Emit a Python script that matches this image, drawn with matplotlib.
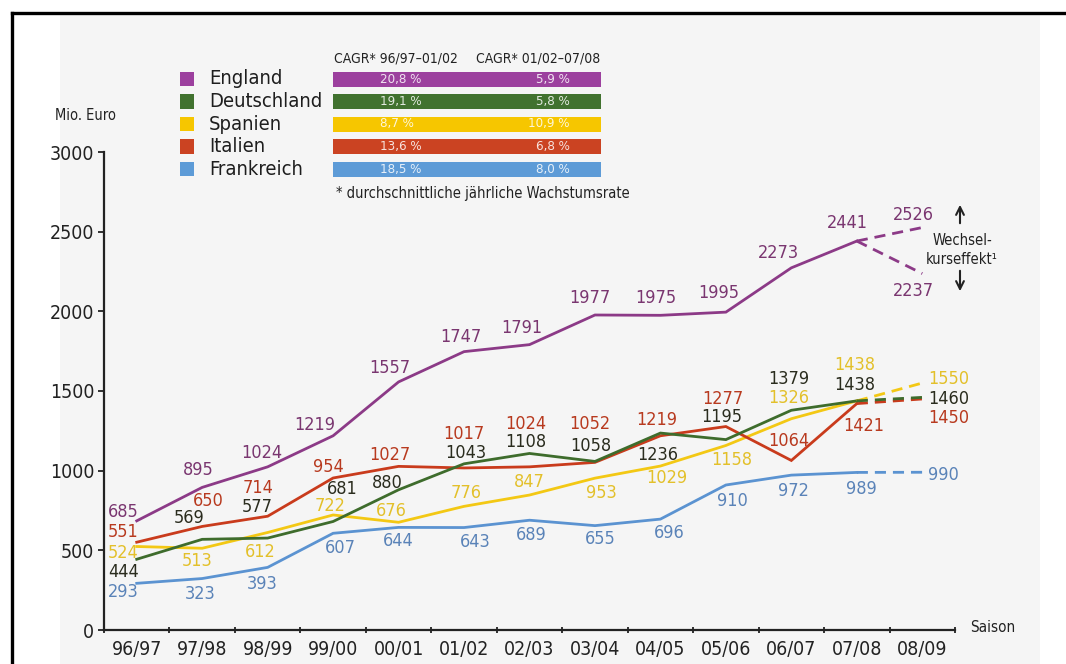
import numpy as np
import matplotlib
matplotlib.use("Agg")
import matplotlib.pyplot as plt
from matplotlib import font_manager
from matplotlib.patches import Rectangle
from matplotlib.lines import Line2D

# Umsatz der Ligen in Mio. Euro, Saison 96/97 bis 07/08, Prognose 08/09
seasons = ["96/97", "97/98", "98/99", "99/00", "00/01", "01/02", "02/03",
           "03/04", "04/05", "05/06", "06/07", "07/08", "08/09"]

england = [685, 895, 1024, 1219, 1557, 1747, 1791, 1977, 1975, 1995, 2273, 2441]
deutschland = [444, 569, 577, 681, 880, 1043, 1108, 1058, 1236, 1195, 1379, 1438]
spanien = [524, 513, 612, 722, 676, 776, 847, 953, 1029, 1158, 1326, 1438]
italien = [551, 650, 714, 954, 1027, 1017, 1024, 1052, 1219, 1277, 1064, 1421]
frankreich = [293, 323, 393, 607, 644, 643, 689, 655, 696, 910, 972, 989]

# Prognose 08/09 (England mit zwei Wechselkurs-Szenarien)
england_forecast = [2526, 2237]
deutschland_forecast = 1460
spanien_forecast = 1550
italien_forecast = 1450
frankreich_forecast = 990

countries = ["England", "Deutschland", "Spanien", "Italien", "Frankreich"]
cagr_9702 = ["20,8 %", "19,1 %", "8,7 %", "13,6 %", "18,5 %"]
cagr_0208 = ["5,9 %", "5,8 %", "10,9 %", "6,8 %", "8,0 %"]

LINE_COLORS = ["#8c3a87", "#3e6c2c", "#f3c814", "#c93b1c", "#5b93d1"]
LABEL_COLORS = ["#7a3670", "#2a2c1e", "#e3c02a", "#b83a1f", "#5a83b8"]
BAR_COLORS = ["#9c409e", "#41722f", "#f6c600", "#cb4322", "#5d9bd7"]

# label offsets in pixels (dx, dy) relative to the data point
OFFSETS = [
    [(2, 9), (-4, 17), (-6, 14), (-18, 11), (-9, 14), (-3, 15), (-8, 17),
     (-5, 17), (-5, 17), (-7, 19), (-13, 15), (-9, 18)],
    [(2, -13), (-13, 21), (-10, 31), (9, 32), (-11, 7), (2, 11), (-4, 11),
     (-4, 15), (-3, -22), (-4, 23), (-3, 31), (-2, 16)],
    [(2, -6), (-5, -13), (-7, -20), (-3, 9), (-7, 11), (2, 13), (0, 13),
     (6, -15), (6, -12), (6, -15), (-3, 21), (-2, 36)],
    [(2, 10), (6, 25), (-10, 28), (-5, 11), (-9, 11), (0, 34), (-4, 43),
     (-5, 38), (-4, 16), (-3, 28), (-3, 19), (7, -22)],
    [(2, -9), (-2, -15), (-5, -17), (7, -15), (0, -14), (11, -14), (2, -15),
     (5, -13), (9, -14), (7, -16), (2, -16), (5, -17)],
]
FORECAST_OFFSETS = [(6, -2), (6, 4), (6, -19), (6, -3)]

W, H = 1066, 664

available = {f.name for f in font_manager.fontManager.ttflist}
if "Liberation Sans Narrow" in available:
    plt.rcParams["font.family"] = ["Liberation Sans Narrow", "DejaVu Sans"]
else:
    plt.rcParams["font.family"] = ["DejaVu Sans"]
    plt.rcParams["font.stretch"] = "condensed"


def fx(x):
    return x / W


def fy(y):
    return 1 - y / H


fig = plt.figure(figsize=(W / 100, H / 100), dpi=100)
fig.patch.set_facecolor("white")

# grauer Rasterhintergrund und Rahmen
fig.patches.append(Rectangle((fx(60), 0), fx(1040) - fx(60), fy(14),
                             transform=fig.transFigure, facecolor="#f5f5f5",
                             edgecolor="none", zorder=-5))
fig.add_artist(Line2D([fx(11.5), fx(11.5)], [0, fy(13)], color="black", lw=2.4))
fig.add_artist(Line2D([fx(11.5), 1], [fy(13), fy(13)], color="black", lw=2.4))

ax = fig.add_axes([fx(104), fy(630), fx(955) - fx(104), fy(152) - fy(630)])
ax.set_facecolor("none")
ax.set_zorder(1)

x = np.arange(len(england))
last = x[-1]
nxt = len(seasons) - 1

series = [england, deutschland, spanien, italien, frankreich]
forecasts = [deutschland_forecast, spanien_forecast, italien_forecast, frankreich_forecast]

# Reihenfolge: Frankreich unten, England oben
for k in [4, 2, 3, 1, 0]:
    ax.plot(x, series[k], color=LINE_COLORS[k], lw=2.0, solid_joinstyle="miter", zorder=3)

for k, fc in zip([4, 2, 3, 1], [frankreich_forecast, spanien_forecast,
                                italien_forecast, deutschland_forecast]):
    ax.plot([last, nxt], [series[k][-1], fc], color=LINE_COLORS[k], lw=2.0,
            ls=(0, (4, 2.5)), zorder=3)
for fc in england_forecast:
    ax.plot([last, nxt], [england[-1], fc], color=LINE_COLORS[0], lw=2.0,
            ls=(0, (4, 2.5)), zorder=3)

# Datenbeschriftungen
for k, vals in enumerate(series):
    for i, v in enumerate(vals):
        dx, dy = OFFSETS[k][i]
        ax.annotate(str(v), (x[i], v), xytext=(dx, dy), textcoords="offset pixels",
                    ha="right" if i == 0 else "center", va="center",
                    fontsize=13, color=LABEL_COLORS[k], zorder=5)

for k, fc in zip([1, 2, 3, 4], forecasts):
    dx, dy = FORECAST_OFFSETS[k - 1]
    ax.annotate(str(fc), (nxt, fc), xytext=(dx, dy), textcoords="offset pixels",
                ha="left", va="center", fontsize=13, color=LABEL_COLORS[k],
                annotation_clip=False, zorder=5)

for fc, dy in zip(england_forecast, [13, -17]):
    ax.annotate(str(fc), (nxt, fc), xytext=(-9, dy), textcoords="offset pixels",
                ha="center", va="center", fontsize=13, color=LABEL_COLORS[0],
                annotation_clip=False, zorder=5)

# Achsen
ax.set_xlim(-0.5, len(seasons) - 0.5)
ax.set_ylim(0, 3000)
ax.set_yticks(np.arange(0, 3001, 500))
ax.set_xticks(np.arange(len(seasons)))
ax.set_xticklabels(seasons)
ax.set_xticks(np.arange(len(seasons) + 1) - 0.5, minor=True)
ax.tick_params(axis="x", which="major", length=0, pad=7, labelsize=14, colors="#222222")
ax.tick_params(axis="x", which="minor", length=4, width=1.3, direction="inout", color="#222222")
ax.tick_params(axis="y", length=4, width=1.3, pad=3, labelsize=14, colors="#222222")
for side in ["top", "right"]:
    ax.spines[side].set_visible(False)
for side in ["left", "bottom"]:
    ax.spines[side].set_linewidth(1.6)
    ax.spines[side].set_color("#222222")

fig.text(fx(55), fy(116), "Mio. Euro", fontsize=10.5, color="#222222", va="center")
fig.text(fx(970), fy(628), "Saison", fontsize=11, color="#222222", va="center")

# Wechselkurseffekt
fig.text(fx(962), fy(240), "Wechsel-", fontsize=10.5, ha="center", va="center", color="#222222")
fig.text(fx(962), fy(260), "kurseffekt\u00b9", fontsize=10.5, ha="center", va="center", color="#222222")
ax.annotate("", xy=(fx(960), fy(202)), xytext=(fx(960), fy(226)),
            xycoords="figure fraction", textcoords="figure fraction",
            arrowprops=dict(arrowstyle="->", lw=1.5, color="#222222", mutation_scale=14))
ax.annotate("", xy=(fx(960), fy(294)), xytext=(fx(960), fy(268)),
            xycoords="figure fraction", textcoords="figure fraction",
            arrowprops=dict(arrowstyle="->", lw=1.5, color="#222222", mutation_scale=14))

# Legende mit CAGR-Balken
row_y = [79, 101.5, 124, 146.5, 169]
fig.text(fx(334), fy(58), "CAGR* 96/97\u201301/02", fontsize=10, va="center", color="#222222")
fig.text(fx(476), fy(58), "CAGR* 01/02\u201307/08", fontsize=10, va="center", color="#222222")
for k, name in enumerate(countries):
    y = row_y[k]
    fig.patches.append(Rectangle((fx(180), fy(y + 7)), fx(14), 14 / H,
                                 transform=fig.transFigure, facecolor=BAR_COLORS[k],
                                 edgecolor="none", zorder=2))
    fig.text(fx(209), fy(y), name, fontsize=14.5, va="center", color="#1e1e1e")
    fig.patches.append(Rectangle((fx(333), fy(y + 7.5)), fx(601) - fx(333), 15 / H,
                                 transform=fig.transFigure, facecolor=BAR_COLORS[k],
                                 edgecolor="none", zorder=2))
    fig.text(fx(380), fy(y), cagr_9702[k], fontsize=9.5, va="center",
             color="white", alpha=0.85, zorder=3)
    fig.text(fx(570), fy(y), cagr_0208[k], fontsize=9.5, va="center", ha="right",
             color="white", alpha=0.85, zorder=3)
fig.text(fx(336), fy(193), "* durchschnittliche j\u00e4hrliche Wachstumsrate",
         fontsize=10.5, va="center", color="#222222")

fig.savefig("out.png", dpi=100)
